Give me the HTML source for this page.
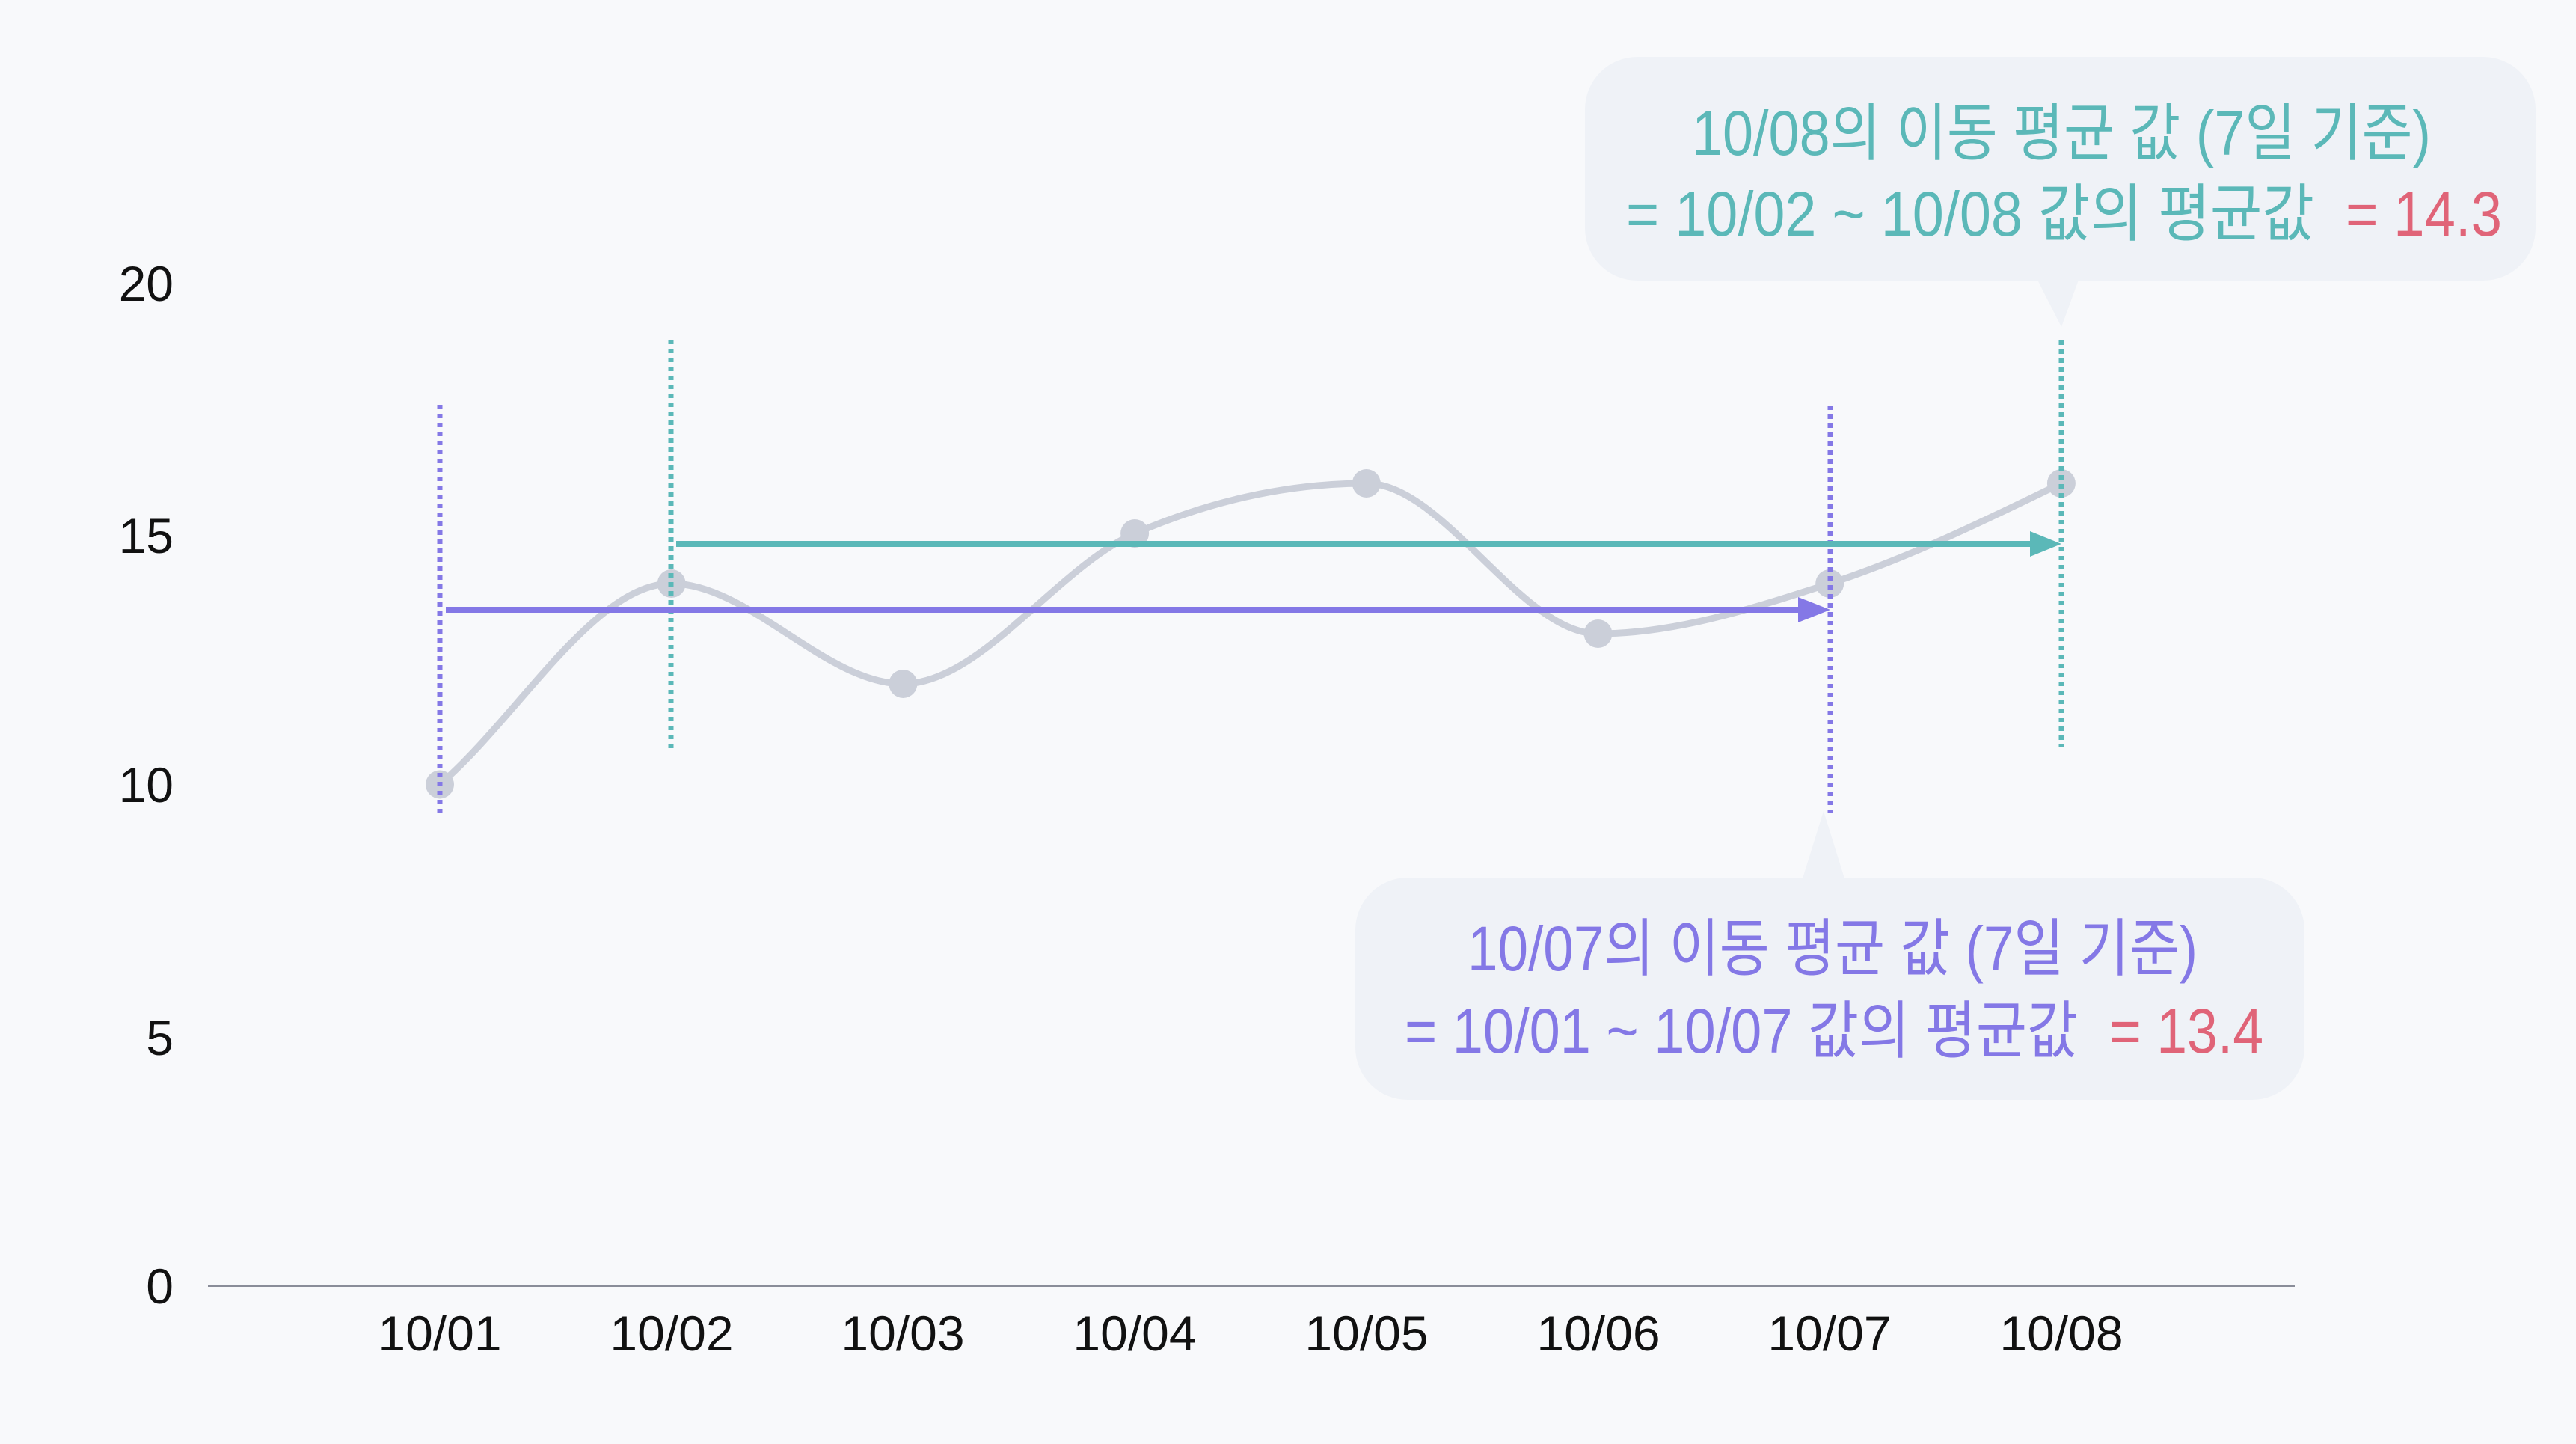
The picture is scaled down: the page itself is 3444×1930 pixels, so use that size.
<!DOCTYPE html>
<html><head><meta charset="utf-8"><style>
html,body{margin:0;padding:0;background:#f8f9fb;}
svg{display:block}
text{font-family:"Liberation Sans","Noto Sans CJK KR",sans-serif;}
</style></head><body>
<svg width="3444" height="1930" viewBox="0 0 3444 1930" xmlns="http://www.w3.org/2000/svg">
<rect width="3444" height="1930" fill="#f8f9fb"/>
<g font-size="66" fill="#111" text-anchor="end">
<text x="232" y="402">20</text>
<text x="232" y="739">15</text>
<text x="232" y="1072">10</text>
<text x="232" y="1410">5</text>
<text x="232" y="1742">0</text>
</g>
<line x1="278" y1="1719" x2="3068" y2="1719" stroke="#8a8d99" stroke-width="2"/>
<g font-size="66" fill="#111" text-anchor="middle">
<text x="588" y="1805">10/01</text>
<text x="898" y="1805">10/02</text>
<text x="1207" y="1805">10/03</text>
<text x="1517" y="1805">10/04</text>
<text x="1827" y="1805">10/05</text>
<text x="2137" y="1805">10/06</text>
<text x="2446" y="1805">10/07</text>
<text x="2756" y="1805">10/08</text>
</g>
<path d="M588,1048.5 C691.2,960 794.5,780 897.7,780 C1000.9,780 1104.2,914 1207.4,914 C1310.6,914 1413.9,757.7 1517.1,713 C1620.3,668.3 1723.6,646 1826.8,646 C1930,646 2033.3,847 2136.5,847 C2239.7,847 2343,813.5 2446.2,780 C2549.4,746.5 2652.7,696.3 2755.9,646" fill="none" stroke="#cbcfd9" stroke-width="9"/>
<g fill="#cbcfd9">
<circle cx="588" cy="1048.5" r="19"/><circle cx="897.7" cy="780" r="19"/><circle cx="1207.4" cy="914" r="19"/><circle cx="1517.1" cy="713" r="19"/><circle cx="1826.8" cy="646" r="19"/><circle cx="2136.5" cy="847" r="19"/><circle cx="2446.2" cy="780" r="19"/><circle cx="2755.9" cy="646" r="19"/>
</g>
<g stroke-width="7" stroke-dasharray="6 6">
<line x1="588" y1="541" x2="588" y2="1087" stroke="#8478e6"/>
<line x1="2447" y1="542" x2="2447" y2="1087" stroke="#8478e6"/>
<line x1="897" y1="454" x2="897" y2="1000" stroke="#5bb8b8"/>
<line x1="2756" y1="455" x2="2756" y2="999" stroke="#5bb8b8"/>
</g>
<line x1="596" y1="815" x2="2410" y2="815" stroke="#8478e6" stroke-width="8"/>
<polygon points="2404,798 2447,815 2404,832" fill="#8478e6"/>
<line x1="904" y1="727" x2="2720" y2="727" stroke="#5bb8b8" stroke-width="8"/>
<polygon points="2714,710 2756,727 2714,744" fill="#5bb8b8"/>
<rect x="2119" y="76" width="1271" height="299" rx="70" fill="#eff2f7"/>
<polygon points="2724,374 2779,374 2756,437" fill="#eff2f7"/>
<text x="2262" y="207" font-size="84" fill="#5bb8b8" textLength="988" lengthAdjust="spacingAndGlyphs">10/08의 이동 평균 값 (7일 기준)</text>
<text x="2174" y="315" font-size="84" fill="#5bb8b8" textLength="920" lengthAdjust="spacingAndGlyphs">= 10/02 ~ 10/08 값의 평균값</text>
<text x="3136" y="315" font-size="84" fill="#e06478" textLength="209" lengthAdjust="spacingAndGlyphs">= 14.3</text>
<rect x="1812" y="1173" width="1269" height="297" rx="70" fill="#eff2f7"/>
<polygon points="2410,1174 2466,1174 2438,1084" fill="#eff2f7"/>
<text x="1962" y="1297" font-size="84" fill="#8478e6" textLength="976" lengthAdjust="spacingAndGlyphs">10/07의 이동 평균 값 (7일 기준)</text>
<text x="1878" y="1407" font-size="84" fill="#8478e6" textLength="900" lengthAdjust="spacingAndGlyphs">= 10/01 ~ 10/07 값의 평균값</text>
<text x="2820" y="1407" font-size="84" fill="#e06478" textLength="206" lengthAdjust="spacingAndGlyphs">= 13.4</text>
</svg>
</body></html>
